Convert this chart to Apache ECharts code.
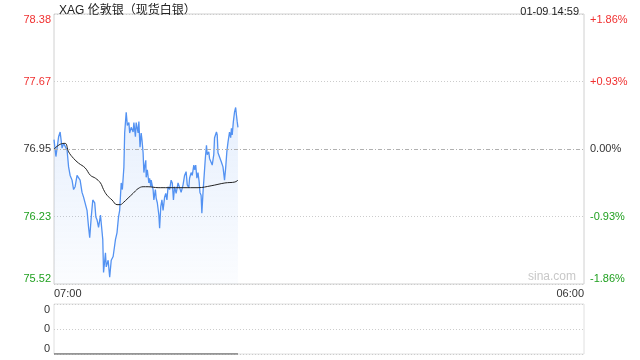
<!DOCTYPE html>
<html><head><meta charset="utf-8">
<script src="https://cdn.jsdelivr.net/npm/echarts@6/dist/echarts.min.js"></script>
<style>html,body{margin:0;padding:0;background:#fff}#c{width:640px;height:360px}</style>
</head><body><div id="c"></div>
<script>
const titleText = 'XAG 伦敦银（现货白银）';
const timeText = '01-09 14:59';
const prevClose = 76.95;
const xLabels = ['07:00', '06:00'];
const priceLabels = ['75.52', '76.23', '76.95', '77.67', '78.38'];
const pctLabels = ['-1.86%', '-0.93%', '0.00%', '+0.93%', '+1.86%'];
const times = [
'07:00','07:05','07:12','07:16','07:21','07:25','07:29','07:34','07:38','07:42',
'07:47','07:51','07:55','08:00','08:04','08:08','08:13','08:17','08:21','08:26',
'08:30','08:33','08:37','08:41','08:46','08:49','08:52','08:56','09:01','09:05',
'09:07','09:09','09:14','09:16','09:21','09:25','09:29','09:34','09:38','09:40',
'09:44','09:48','09:51','09:55','09:58','10:02','10:04','10:08','10:11','10:15',
'10:17','10:21','10:26','10:28','10:32','10:34','10:39','10:41','10:44','10:47',
'10:49','10:52','10:54','10:56','10:59','11:00','11:03','11:07','11:09','11:12',
'11:13','11:18','11:20','11:24','11:26','11:29','11:33','11:35','11:38','11:41',
'11:44','11:48','11:51','11:54','11:57','12:01','12:05','12:08','12:11','12:14',
'12:18','12:23','12:27','12:31','12:36','12:40','12:44','12:47','12:51','12:53',
'12:57','13:00','13:04','13:06','13:09','13:12','13:15','13:18','13:20','13:23',
'13:25','13:28','13:31','13:34','13:37','13:39','13:43','13:45','13:50','13:52',
'13:56','13:58','14:03','14:05','14:07','14:11','14:16','14:20','14:24','14:27',
'14:30','14:33','14:37','14:40','14:42','14:44','14:47','14:50','14:53','14:55',
'14:57','14:59'];
const prices = [
77.05,76.87,77.08,77.13,76.96,77.01,76.99,76.94,76.76,76.67,
76.62,76.52,76.55,76.67,76.65,76.62,76.49,76.44,76.46,76.30,
76.12,76.01,76.23,76.41,76.38,76.23,76.20,76.12,76.25,76.23,
75.99,75.64,75.85,75.70,75.77,75.59,75.77,75.81,75.79,75.99,
76.06,76.23,76.30,76.59,76.52,76.76,77.12,77.34,77.20,77.23,
77.12,77.18,77.13,77.23,77.08,77.23,77.12,77.24,76.97,77.12,
77.05,76.91,76.70,76.76,76.83,76.65,76.73,76.59,76.64,76.55,
76.62,76.52,76.41,76.52,76.43,76.38,76.25,76.11,76.34,76.41,
76.30,76.44,76.48,76.41,76.55,76.52,76.62,76.59,76.41,76.55,
76.48,76.59,76.54,76.49,76.57,76.67,76.71,76.57,76.54,76.64,
76.70,76.67,76.78,76.73,76.78,76.64,76.70,76.60,76.49,76.46,
76.27,76.49,76.67,76.85,76.99,76.89,76.92,76.85,76.83,76.78,
76.89,77.07,77.13,77.10,76.91,76.89,76.81,76.76,76.62,76.75,
76.92,77.02,77.13,77.07,77.17,77.10,77.24,77.34,77.39,77.31,
77.24,77.18];
const avgTimes = ['07:00','07:16','07:29','07:38','07:51','08:04','08:21','08:35','08:48','09:01',
'09:09','09:18','09:31','09:44','09:53','10:00','10:13','10:26','10:39','10:52',
'11:05','11:31','11:57','12:36','13:15','13:49','14:25','14:51','14:59'];
const avgPrices = [76.95,77.00,77.01,76.92,76.85,76.80,76.75,76.67,76.64,76.59,
76.52,76.46,76.41,76.36,76.36,76.38,76.43,76.48,76.53,76.55,
76.55,76.54,76.54,76.54,76.54,76.56,76.59,76.60,76.62];
const volTimes = ['07:00', '14:59'];
const volumes = [0, 0];
const volLabels = ['0', '0', '0'];

const FONT = '"Liberation Sans", Arial, "Noto Sans CJK SC", sans-serif';
const RED = '#f03030', GREEN = '#20a020', DARK = '#333';
const labelColors = [GREEN, GREEN, DARK, RED, RED];
function toMin(s) { const [h, m] = s.split(':').map(Number); let v = h * 60 + m - 420; if (v < 0) v += 1440; return v; }
function pct(p) { return (p / prevClose - 1) * 100; }
const priceData = times.map((t, i) => [toMin(t), pct(prices[i])]);
const avgData = avgTimes.map((t, i) => [toMin(t), pct(avgPrices[i])]);
const volData = volTimes.map((t, i) => [toMin(t), volumes[i]]);

const chart = echarts.init(document.getElementById('c'), null, { renderer: 'canvas' });
const yCommon = {
  type: 'value', gridIndex: 0, min: -1.86, max: 1.86, interval: 0.93,
  axisLine: { show: false }, axisTick: { show: false },
};
chart.setOption({
  animation: false,
  textStyle: { fontFamily: FONT },
  title: [
    { text: titleText, left: 54, top: 0, textStyle: { fontSize: 12, fontWeight: 'normal', color: '#222', fontFamily: FONT } },
    { text: timeText, right: 56, top: 1, textStyle: { fontSize: 11, fontWeight: 'normal', color: '#222', fontFamily: FONT } }
  ],
  grid: [
    { left: 54, right: 56, top: 14, height: 270, show: true, borderColor: '#d0d0d0', borderWidth: 1 },
    { left: 54, right: 56, top: 304, height: 50, show: true, borderColor: '#e0e0e0', borderWidth: 1 }
  ],
  xAxis: [
    { type: 'value', gridIndex: 0, min: 0, max: 1380, interval: 1380,
      axisLine: { show: false }, axisTick: { show: false }, splitLine: { show: false },
      axisLabel: { margin: 4, fontSize: 11, color: DARK, alignMinLabel: 'left', alignMaxLabel: 'right',
        formatter: (v, i) => xLabels[i] } },
    { type: 'value', gridIndex: 1, min: 0, max: 1380, interval: 1380,
      axisLine: { show: false }, axisTick: { show: false }, splitLine: { show: false }, axisLabel: { show: false } }
  ],
  yAxis: [
    Object.assign({}, yCommon, { position: 'left',
      splitLine: { show: true, lineStyle: { color: '#ccc', type: [1, 2], width: 1 } },
      axisLabel: { margin: 3, fontSize: 11, color: (v, i) => labelColors[i],
        verticalAlignMinLabel: 'bottom', verticalAlignMaxLabel: 'top',
        formatter: (v, i) => priceLabels[i] } }),
    Object.assign({}, yCommon, { position: 'right', splitLine: { show: false },
      axisLabel: { margin: 6, fontSize: 11, color: (v, i) => labelColors[i],
        verticalAlignMinLabel: 'bottom', verticalAlignMaxLabel: 'top',
        formatter: (v, i) => pctLabels[i] } }),
    { type: 'value', gridIndex: 1, min: 0, max: 2, interval: 1,
      axisLine: { show: false }, axisTick: { show: false },
      splitLine: { show: true, lineStyle: { color: '#ccc', type: [1, 2] } },
      axisLabel: { margin: 4, fontSize: 11, color: DARK,
        verticalAlignMinLabel: 'bottom', verticalAlignMaxLabel: 'top',
        formatter: (v, i) => volLabels[i] } }
  ],
  graphic: [
    { type: 'text', right: 64, top: 271, style: { text: 'sina.com', fill: '#c8c8c8', font: '12px ' + FONT } }
  ],
  series: [
    { type: 'line', name: 'price', xAxisIndex: 0, yAxisIndex: 0, data: priceData,
      showSymbol: false, symbol: 'none', lineStyle: { color: '#5392f2', width: 1.3 }, itemStyle: { color: '#5392f2' },
      areaStyle: { origin: 'start', color: new echarts.graphic.LinearGradient(0, 0, 0, 1, [
        { offset: 0, color: 'rgba(77,142,240,0.2)' }, { offset: 1, color: 'rgba(77,142,240,0.03)' }]) },
      markLine: { silent: true, symbol: 'none', label: { show: false },
        lineStyle: { color: '#b0b0b0', type: [4, 2, 1, 2], width: 1 }, data: [{ yAxis: 0 }] },
      z: 3 },
    { type: 'line', name: 'avg', xAxisIndex: 0, yAxisIndex: 0, data: avgData, smooth: 0.4,
      showSymbol: false, symbol: 'none', lineStyle: { color: '#222', width: 1 }, z: 4 },
    { type: 'line', name: 'vol', xAxisIndex: 1, yAxisIndex: 2, data: volData,
      showSymbol: false, symbol: 'none', lineStyle: { color: '#777', width: 1.5 } }
  ]
});
</script></body></html>
